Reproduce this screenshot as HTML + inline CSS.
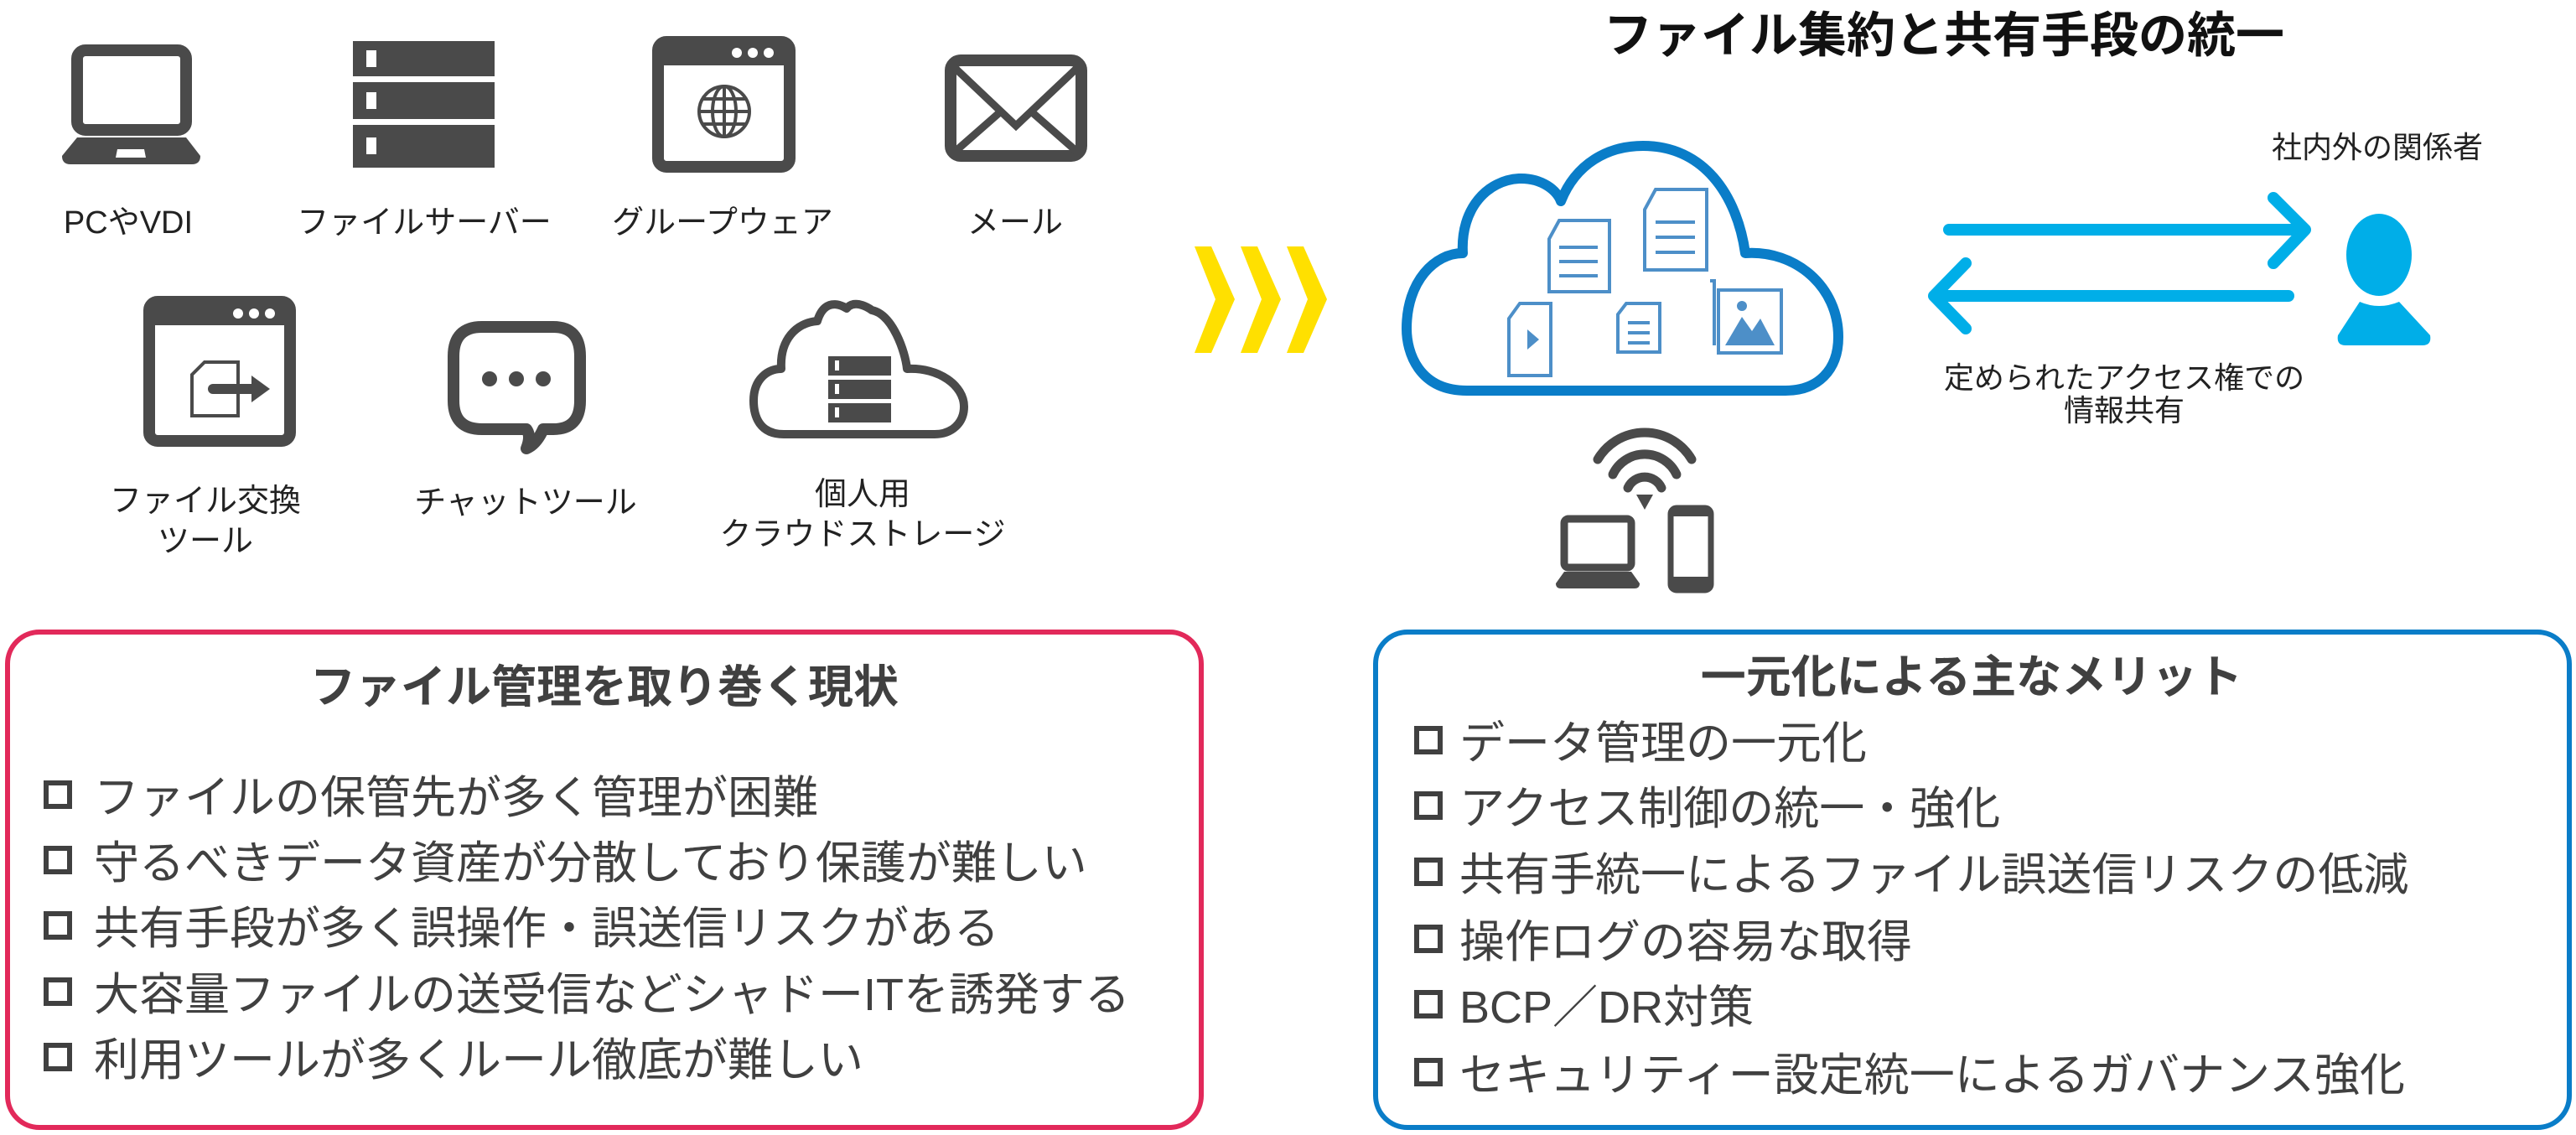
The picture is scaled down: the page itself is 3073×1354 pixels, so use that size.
<!DOCTYPE html>
<html><head><meta charset="utf-8"><style>
html,body{margin:0;padding:0;background:#fff;}
svg{display:block;}
text{font-family:"Liberation Sans","Noto Sans CJK JP",sans-serif;}
</style></head><body>
<svg width="3073" height="1354" viewBox="0 0 3073 1354" xmlns="http://www.w3.org/2000/svg">
<g fill="#4a4a4a" stroke="none">
 <rect x="92" y="60" width="130" height="95" rx="10" fill="none" stroke="#4a4a4a" stroke-width="14"/>
 <path d="M92,164 L222,164 L239,186 Q239,196 229,196 L84,196 Q74,196 74,186 Z"/>
 <path d="M140,178 L172,178 L174,188 L138,188 Z" fill="#fff"/>
 <rect x="421" y="49" width="169" height="42"/>
 <rect x="421" y="98" width="169" height="44"/>
 <rect x="421" y="149" width="169" height="51"/>
 <rect x="437" y="60" width="12" height="20" fill="#fff"/>
 <rect x="437" y="110" width="12" height="20" fill="#fff"/>
 <rect x="437" y="164" width="12" height="20" fill="#fff"/>
 <rect x="785" y="50" width="157" height="149" rx="10" fill="none" stroke="#4a4a4a" stroke-width="14"/>
 <rect x="785" y="50" width="157" height="28"/>
 <circle cx="879" cy="63" r="6" fill="#fff"/><circle cx="898" cy="63" r="6" fill="#fff"/><circle cx="917" cy="63" r="6" fill="#fff"/>
 <g fill="none" stroke="#4a4a4a" stroke-width="4">
  <circle cx="864" cy="133" r="30"/><ellipse cx="864" cy="133" rx="14" ry="30"/>
  <line x1="864" y1="103" x2="864" y2="163"/><line x1="834" y1="133" x2="894" y2="133"/>
  <line x1="839" y1="118" x2="889" y2="118"/><line x1="839" y1="148" x2="889" y2="148"/>
 </g>
 <rect x="1134" y="72" width="156" height="114" rx="12" fill="none" stroke="#4a4a4a" stroke-width="14"/>
 <path d="M1138,80 L1212,150 L1286,80 M1138,182 L1195,132 M1286,182 L1229,132" fill="none" stroke="#4a4a4a" stroke-width="9"/>
 <rect x="178" y="360" width="168" height="166" rx="10" fill="none" stroke="#4a4a4a" stroke-width="14"/>
 <rect x="178" y="360" width="168" height="28"/>
 <circle cx="284" cy="374" r="6" fill="#fff"/><circle cx="303" cy="374" r="6" fill="#fff"/><circle cx="322" cy="374" r="6" fill="#fff"/>
 <path d="M244,432 L284,432 L284,496 L229,496 L229,447 Z" fill="none" stroke="#4a4a4a" stroke-width="4"/>
 <path d="M254,464 L304,464" stroke="#4a4a4a" stroke-width="12" stroke-linecap="round"/>
 <path d="M300,448 L322,464 L300,480 Z"/>
 <path d="M575,390 L660,390 Q692,390 692,425 L692,478 Q692,512 660,512 L648,512 Q640,530 628,535 Q634,520 628,512 L575,512 Q541,512 541,478 L541,425 Q541,390 575,390 Z" fill="none" stroke="#4a4a4a" stroke-width="14" stroke-linejoin="round"/>
 <circle cx="584" cy="452" r="9"/><circle cx="616" cy="452" r="9"/><circle cx="648" cy="452" r="9"/>
 <path d="M935,518 C905,518 899,495 899,478 C899,452 916,440 932,440 C930,405 950,385 975,383 C985,350 1010,368 1010,368 C1020,355 1040,370 1040,370 C1065,375 1080,420 1082,440 C1120,438 1150,460 1150,485 C1150,505 1135,518 1115,518 Z" fill="none" stroke="#4a4a4a" stroke-width="10" stroke-linejoin="round"/>
 <rect x="988" y="425" width="75" height="23"/><rect x="988" y="453" width="75" height="23"/><rect x="988" y="481" width="75" height="23"/>
 <rect x="996" y="430" width="5" height="12" fill="#fff"/><rect x="996" y="458" width="5" height="12" fill="#fff"/><rect x="996" y="486" width="5" height="12" fill="#fff"/>
</g>
<g font-size="38" fill="#222" text-anchor="middle">
 <text x="153" y="278">PCやVDI</text>
 <text x="506" y="278">ファイルサーバー</text>
 <text x="862" y="278">グループウェア</text>
 <text x="1211" y="278">メール</text>
 <text x="245" y="610">ファイル交換</text>
 <text x="245" y="658">ツール</text>
 <text x="627" y="612">チャットツール</text>
 <text x="1029" y="602">個人用</text>
 <text x="1029" y="650">クラウドストレージ</text>
</g>
<g fill="#ffe000">
 <path d="M1425,294 L1445,294 L1473,357 L1445,421 L1425,421 L1450,357 Z"/>
 <path d="M1480,294 L1500,294 L1528,357 L1500,421 L1480,421 L1505,357 Z"/>
 <path d="M1535,294 L1555,294 L1583,357 L1555,421 L1535,421 L1560,357 Z"/>
</g>
<text x="2319" y="62" font-size="58" font-weight="bold" fill="#111" text-anchor="middle">ファイル集約と共有手段の統一</text>
<path d="M1750,466 C1692,466 1678,420 1678,392 C1678,335 1712,302 1745,302 C1742,248 1775,215 1812,213 C1840,212 1858,228 1862,240 C1880,195 1918,174 1960,174 C2032,174 2072,232 2082,302 C2142,298 2193,342 2193,402 C2193,442 2168,466 2130,466 Z" fill="none" stroke="#0a7dc8" stroke-width="12" stroke-linejoin="round"/>
<g fill="#fff" stroke="#4d8fc8" stroke-width="4">
 <path d="M1860,263 L1920,263 L1920,348 L1848,348 L1848,285 Z"/>
 <path d="M1975,226 L2036,226 L2036,322 L1962,322 L1962,250 Z"/>
 <path d="M1813,362 L1850,362 L1850,448 L1800,448 L1800,380 Z"/>
 <path d="M1940,362 L1980,362 L1980,420 L1930,420 L1930,375 Z"/>
 <rect x="2050" y="346" width="75" height="75"/>
 <path d="M2040,335 L2045,335 L2045,412"/>
</g>
<g stroke="#4d8fc8" stroke-width="4">
 <line x1="1860" y1="295" x2="1906" y2="295"/><line x1="1860" y1="312" x2="1906" y2="312"/><line x1="1860" y1="329" x2="1906" y2="329"/>
 <line x1="1975" y1="265" x2="2022" y2="265"/><line x1="1975" y1="283" x2="2022" y2="283"/><line x1="1975" y1="301" x2="2022" y2="301"/>
 <line x1="1942" y1="385" x2="1968" y2="385"/><line x1="1942" y1="397" x2="1968" y2="397"/><line x1="1942" y1="409" x2="1968" y2="409"/>
</g>
<path d="M1822,393 L1836,405 L1822,417 Z" fill="#4d8fc8"/>
<path d="M2058,412 L2078,378 L2090,395 L2100,380 L2117,412 Z" fill="#4d8fc8"/>
<circle cx="2078" cy="365" r="6" fill="#4d8fc8"/>
<g stroke="#00aee8" stroke-width="14" stroke-linecap="round" stroke-linejoin="round" fill="none">
 <line x1="2325" y1="274" x2="2745" y2="274"/>
 <polyline points="2712,236 2750,274 2712,314"/>
 <line x1="2313" y1="353" x2="2730" y2="353"/>
 <polyline points="2345,314 2307,353 2345,392"/>
</g>
<g fill="#00aee8">
 <ellipse cx="2838" cy="304" rx="39" ry="49"/>
 <path d="M2815,360 Q2838,370 2862,360 L2899,400 Q2901,412 2890,412 L2798,412 Q2787,412 2789,400 Z"/>
</g>
<text x="2836" y="188" font-size="36" fill="#222" text-anchor="middle">社内外の関係者</text>
<text x="2534" y="463" font-size="36" fill="#222" text-anchor="middle">定められたアクセス権での</text>
<text x="2534" y="502" font-size="36" fill="#222" text-anchor="middle">情報共有</text>
<g fill="none" stroke="#4a4a4a" stroke-width="11" stroke-linecap="round">
 <path d="M1906,548 A65,65 0 0 1 2018,548"/>
 <path d="M1924,566 A42,42 0 0 1 2000,566"/>
 <path d="M1942,582 A22,22 0 0 1 1982,582"/>
</g>
<path d="M1952,590 L1972,590 L1962,608 Z" fill="#4a4a4a"/>
<rect x="1866" y="619" width="80" height="58" rx="5" fill="none" stroke="#4a4a4a" stroke-width="9"/>
<path d="M1866,682 L1946,682 L1956,696 Q1956,702 1950,702 L1862,702 Q1856,702 1856,696 Z" fill="#4a4a4a"/>
<rect x="1993" y="606" width="48" height="98" rx="7" fill="none" stroke="#4a4a4a" stroke-width="7"/>
<rect x="1993" y="606" width="48" height="10" fill="#4a4a4a"/><rect x="1993" y="688" width="48" height="14" fill="#4a4a4a"/>
<rect x="9" y="754" width="1424" height="591" rx="38" fill="none" stroke="#e2295a" stroke-width="6"/>
<rect x="1641" y="754" width="1424" height="591" rx="38" fill="none" stroke="#0a7dc8" stroke-width="6"/>
<text x="721" y="838" font-size="54" font-weight="bold" fill="#404040" text-anchor="middle">ファイル管理を取り巻く現状</text>
<text x="2352" y="826" font-size="54" font-weight="bold" fill="#404040" text-anchor="middle">一元化による主なメリット</text>
<g fill="none" stroke="#404040" stroke-width="6">
 <rect x="55" y="934" width="28" height="28"/><rect x="55" y="1012" width="28" height="28"/><rect x="55" y="1090" width="28" height="28"/><rect x="55" y="1169" width="28" height="28"/><rect x="55" y="1247" width="28" height="28"/>
 <rect x="1690" y="869" width="28" height="28"/><rect x="1690" y="947" width="28" height="28"/><rect x="1690" y="1026" width="28" height="28"/><rect x="1690" y="1106" width="28" height="28"/><rect x="1690" y="1184" width="28" height="28"/><rect x="1690" y="1265" width="28" height="28"/>
</g>
<g font-size="54" fill="#404040">
 <text x="112" y="970">ファイルの保管先が多く管理が困難</text>
 <text x="112" y="1048">守るべきデータ資産が分散しており保護が難しい</text>
 <text x="112" y="1126">共有手段が多く誤操作・誤送信リスクがある</text>
 <text x="112" y="1205">大容量ファイルの送受信などシャドーITを誘発する</text>
 <text x="112" y="1283">利用ツールが多くルール徹底が難しい</text>
 <text x="1741" y="905">データ管理の一元化</text>
 <text x="1741" y="983">アクセス制御の統一・強化</text>
 <text x="1741" y="1062">共有手統一によるファイル誤送信リスクの低減</text>
 <text x="1741" y="1142">操作ログの容易な取得</text>
 <text x="1741" y="1220">BCP／DR対策</text>
 <text x="1741" y="1301">セキュリティー設定統一によるガバナンス強化</text>
</g>
</svg>
</body></html>
